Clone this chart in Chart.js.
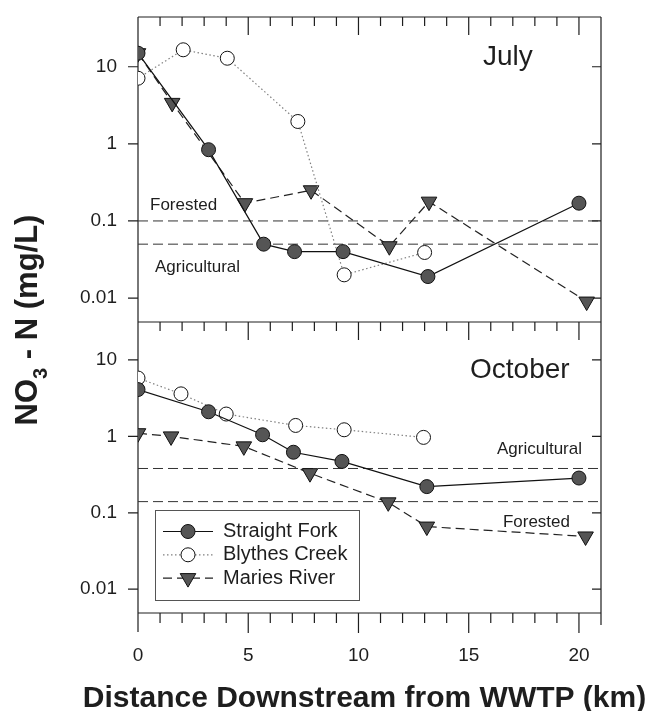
<!DOCTYPE html>
<html>
<head>
<meta charset="utf-8">
<script src="https://cdn.jsdelivr.net/npm/chart.js@4.4.1/dist/chart.umd.min.js"></script>
<style>
  html, body { margin: 0; padding: 0; background: #fff; }
  canvas { display: block; }
</style>
</head>
<body>
<canvas id="nitrateChart" width="658" height="711"></canvas>
<script>
// NO3-N (mg/L) against distance downstream of the WWTP (km)
const seriesNames = ['Straight Fork', 'Blythes Creek', 'Maries River'];
const panelNames = ['July', 'October'];

const julyForkKm = [0, 3.2, 5.7, 7.1, 9.3, 13.15, 20.0];
const julyForkNO3 = [15, 0.84, 0.05, 0.04, 0.04, 0.019, 0.17];
const julyCreekKm = [0, 2.05, 4.05, 7.25, 9.35, 13.0];
const julyCreekNO3 = [7.1, 16.6, 12.9, 1.95, 0.02, 0.039];
const julyRiverKm = [0, 1.55, 4.85, 7.85, 11.4, 13.2, 20.35];
const julyRiverNO3 = [15, 3.4, 0.17, 0.25, 0.047, 0.178, 0.009];

const octForkKm = [0, 3.2, 5.65, 7.05, 9.25, 13.1, 20.0];
const octForkNO3 = [4.1, 2.1, 1.05, 0.62, 0.47, 0.22, 0.285];
const octCreekKm = [0, 1.95, 4.0, 7.15, 9.35, 12.95];
const octCreekNO3 = [5.8, 3.6, 1.96, 1.39, 1.22, 0.97];
const octRiverKm = [0, 1.5, 4.8, 7.8, 11.35, 13.1, 20.3];
const octRiverNO3 = [1.1, 1.0, 0.74, 0.33, 0.137, 0.066, 0.049];

// background land-use levels
const baselineNames = ['Forested', 'Agricultural'];
const julyBaselines = [0.1, 0.05];
const octBaselines = [0.14, 0.38];

const xTickValues = [0, 5, 10, 15, 20];
const xRange = [0, 21];
const yTickValues = [0.01, 0.1, 1, 10];
const yTickLabels = ['0.01', '0.1', '1', '10'];
const julyRange = [0.00489, 44.2];
const octRange = [0.00488, 31.4];

const FONT = '"Liberation Sans", Arial, Helvetica, sans-serif';
const INK = '#1e1e1e';

const seriesStyles = [
  { pointStyle: 'circle', fill: '#555', line: '#111', dash: [], radius: 7, rotation: 0 },
  { pointStyle: 'circle', fill: '#fff', line: '#808080', dash: [1.5, 2.5], radius: 7, rotation: 0 },
  { pointStyle: 'triangle', fill: '#555', line: '#222', dash: [9, 5], radius: 9, rotation: 180 }
];

function makeSeries(i, km, vals, axis) {
  const st = seriesStyles[i];
  return {
    label: seriesNames[i],
    data: km.map((x, j) => ({ x: x, y: vals[j] })),
    yAxisID: axis,
    borderColor: st.line,
    borderWidth: 1.2,
    borderDash: st.dash,
    pointStyle: st.pointStyle,
    pointRotation: st.rotation,
    pointRadius: st.radius,
    pointBackgroundColor: st.fill,
    pointBorderColor: '#111',
    pointBorderWidth: 1,
    tension: 0,
    fill: false
  };
}

function makeBaseline(value, axis) {
  return {
    label: '',
    data: [{ x: xRange[0], y: value }, { x: xRange[1], y: value }],
    yAxisID: axis,
    borderColor: '#333',
    borderWidth: 1,
    borderDash: [10, 5],
    pointRadius: 0,
    fill: false
  };
}

const datasets = [
  makeSeries(0, julyForkKm, julyForkNO3, 'yTop'),
  makeSeries(1, julyCreekKm, julyCreekNO3, 'yTop'),
  makeSeries(2, julyRiverKm, julyRiverNO3, 'yTop'),
  makeSeries(0, octForkKm, octForkNO3, 'yBot'),
  makeSeries(1, octCreekKm, octCreekNO3, 'yBot'),
  makeSeries(2, octRiverKm, octRiverNO3, 'yBot')
];
julyBaselines.forEach(v => datasets.push(makeBaseline(v, 'yTop')));
octBaselines.forEach(v => datasets.push(makeBaseline(v, 'yBot')));

// drop the label overhang padding so layout.padding alone places the plot area
function fixBox(s) {
  s.paddingTop = 0; s.paddingBottom = 0;
  s.paddingLeft = 0; s.paddingRight = 0;
}

function logAxis(range, weight, stackWeight) {
  return {
    type: 'logarithmic',
    position: 'left',
    stack: 'panels',
    stackWeight: stackWeight,
    weight: weight,
    min: range[0],
    max: range[1],
    bounds: 'data',
    grid: { display: false, drawTicks: false },
    border: { display: false },
    afterBuildTicks: s => { s.ticks = yTickValues.map(v => ({ value: v })); },
    afterFit: s => { s.width = 60; fixBox(s); },
    ticks: {
      autoSkip: false,
      padding: 21,
      color: INK,
      font: { family: FONT, size: 19 },
      callback: v => yTickLabels[yTickValues.indexOf(v)]
    }
  };
}

// frame, inward/outward ticks, labels, legend and axis titles
const framePlugin = {
  id: 'frame',
  beforeDatasetsDraw(chart) {
    const { ctx, scales } = chart;
    const x = scales.x, top = scales.yTop, bot = scales.yBot;
    const L = x.left, R = x.right, T = top.top, M = top.bottom, B = bot.bottom;
    ctx.save();
    ctx.strokeStyle = INK;
    ctx.lineWidth = 1.2;
    ctx.beginPath();
    ctx.moveTo(L, T); ctx.lineTo(R, T);
    ctx.moveTo(L, M); ctx.lineTo(R, M);
    ctx.moveTo(L, B); ctx.lineTo(R, B);
    ctx.moveTo(L, T); ctx.lineTo(L, B + 19);
    ctx.moveTo(R, T); ctx.lineTo(R, B + 12);
    const last = xTickValues[xTickValues.length - 1];
    for (let km = 1; km <= last; km++) {
      const px = x.getPixelForValue(km);
      const major = xTickValues.includes(km);
      const len = major ? 18 : 9;
      ctx.moveTo(px, T); ctx.lineTo(px, T + len);
      ctx.moveTo(px, M); ctx.lineTo(px, M + len);
      ctx.moveTo(px, B); ctx.lineTo(px, B + (major ? 20 : 10));
    }
    [top, bot].forEach(s => yTickValues.forEach(v => {
      const py = s.getPixelForValue(v);
      ctx.moveTo(L - 10, py); ctx.lineTo(L, py);
      ctx.moveTo(R - 9, py); ctx.lineTo(R, py);
    }));
    ctx.stroke();
    ctx.restore();
  },
  afterDatasetsDraw(chart) {
    const { ctx, scales } = chart;
    const x = scales.x, top = scales.yTop, bot = scales.yBot;
    const L = x.left, R = x.right, T = top.top, M = top.bottom, B = bot.bottom;
    ctx.save();
    ctx.fillStyle = INK;

    // panel names
    ctx.font = '28px ' + FONT;
    ctx.textAlign = 'left';
    ctx.textBaseline = 'alphabetic';
    ctx.fillText(panelNames[0], R - 118, T + 48);
    ctx.fillText(panelNames[1], R - 131, M + 56);

    // land-use labels
    ctx.font = '17px ' + FONT;
    ctx.textBaseline = 'middle';
    ctx.fillText(baselineNames[0], L + 12, top.getPixelForValue(julyBaselines[0]) - 16);
    ctx.fillText(baselineNames[1], L + 17, top.getPixelForValue(julyBaselines[1]) + 23);
    ctx.textAlign = 'right';
    ctx.fillText(baselineNames[1], R - 19, bot.getPixelForValue(octBaselines[1]) - 19);
    ctx.fillText(baselineNames[0], R - 31, bot.getPixelForValue(octBaselines[0]) + 21);

    // legend box
    const bx = L + 17, by = B - 103, bw = 204, bh = 90;
    ctx.fillStyle = '#fff';
    ctx.fillRect(bx, by, bw, bh);
    ctx.strokeStyle = '#555';
    ctx.lineWidth = 1;
    ctx.strokeRect(bx + 0.5, by + 0.5, bw, bh);
    seriesStyles.forEach((st, i) => {
      const ry = by + 21.5 + i * 23.3;
      ctx.strokeStyle = st.line;
      ctx.lineWidth = 1.2;
      ctx.setLineDash(st.dash);
      ctx.beginPath();
      ctx.moveTo(bx + 8, ry); ctx.lineTo(bx + 58, ry);
      ctx.stroke();
      ctx.setLineDash([]);
      ctx.fillStyle = st.fill;
      ctx.strokeStyle = '#111';
      ctx.lineWidth = 1;
      Chart.helpers.drawPoint(ctx, {
        pointStyle: st.pointStyle, rotation: st.rotation, radius: st.radius, borderWidth: 1
      }, bx + 33, ry);
      ctx.fillStyle = INK;
      ctx.font = '20px ' + FONT;
      ctx.textAlign = 'left';
      ctx.textBaseline = 'middle';
      ctx.fillText(seriesNames[i], bx + 68, ry);
    });

    // axis titles
    ctx.fillStyle = INK;
    ctx.font = 'bold 30px ' + FONT;
    ctx.textAlign = 'center';
    ctx.textBaseline = 'alphabetic';
    ctx.fillText('Distance Downstream from WWTP (km)', (L + R) / 2 - 5, 707);

    const big = 'bold 31px ' + FONT, small = 'bold 20px ' + FONT;
    const parts = [['NO', big, 0], ['3', small, 10], [' - N (mg/L)', big, 0]];
    let total = 0;
    parts.forEach(p => { ctx.font = p[1]; total += ctx.measureText(p[0]).width; });
    ctx.translate(37, (T + B) / 2 + 5);
    ctx.rotate(-Math.PI / 2);
    ctx.textAlign = 'left';
    let cx = -total / 2;
    parts.forEach(p => {
      ctx.font = p[1];
      ctx.fillText(p[0], cx, p[2]);
      cx += ctx.measureText(p[0]).width;
    });
    ctx.restore();
  }
};

const ctx = document.getElementById('nitrateChart').getContext('2d');
const nitrateChart = new Chart(ctx, {
  type: 'line',
  data: { datasets: datasets },
  options: {
    responsive: false,
    animation: false,
    devicePixelRatio: 1,
    layout: { padding: { left: 78, right: 57, top: 17, bottom: 0 } },
    plugins: { legend: { display: false }, tooltip: { enabled: false } },
    scales: {
      x: {
        type: 'linear',
        min: xRange[0],
        max: xRange[1],
        grid: { display: false, drawTicks: false },
        border: { display: false },
        afterBuildTicks: s => { s.ticks = xTickValues.map(v => ({ value: v })); },
        afterFit: s => { s.height = 98; fixBox(s); },
        ticks: {
          autoSkip: false,
          maxRotation: 0,
          padding: 31,
          color: INK,
          font: { family: FONT, size: 19 }
        }
      },
      yTop: logAxis(julyRange, 2, 305),
      yBot: logAxis(octRange, 1, 291)
    }
  },
  plugins: [framePlugin]
});
</script>
</body>
</html>
